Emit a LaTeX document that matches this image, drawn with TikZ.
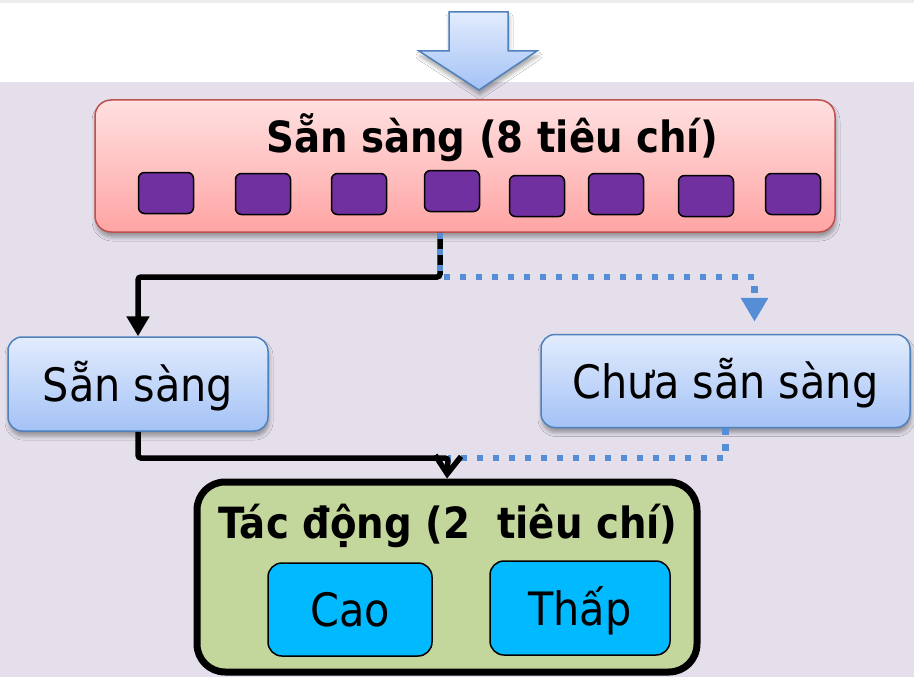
\documentclass[tikz,border=0pt]{standalone}
\usepackage{fontspec}
\setmainfont{DejaVu Sans}[FakeStretch=0.9]
\usetikzlibrary{arrows.meta,shadows.blur}

\definecolor{bglav}{RGB}{228,223,235}
\definecolor{pinktop}{RGB}{255,224,224}
\definecolor{pinkbot}{RGB}{255,164,164}
\definecolor{pinkline}{RGB}{192,80,77}
\definecolor{bluetop}{RGB}{226,236,253}
\definecolor{bluebot}{RGB}{164,194,246}
\definecolor{blueline}{RGB}{79,129,189}
\definecolor{critfill}{RGB}{112,48,160}
\definecolor{dotblue}{RGB}{85,142,213}
\definecolor{impactfill}{RGB}{195,214,155}
\definecolor{levelfill}{RGB}{0,185,255}

\newcommand{\statefont}{\fontsize{46}{52}\selectfont}
\newcommand{\headfont}{\fontsize{43}{48}\selectfont\bfseries}

\begin{document}
\begin{tikzpicture}[x=1pt,y=-1pt,
  softshadow/.style={blur shadow={shadow xshift=1pt,shadow yshift=-5pt,shadow blur radius=4pt,shadow opacity=35}},
  readybar/.style={draw=pinkline,line width=1.5pt,rounded corners=16pt,top color=pinktop,bottom color=pinkbot,softshadow,minimum width=740,minimum height=132,inner sep=0pt},
  critbox/.style={draw=black,line width=1.5pt,fill=critfill,rounded corners=6pt,minimum width=55,minimum height=41,inner sep=0pt},
  statebox/.style={draw=blueline,line width=1.5pt,rounded corners=14pt,top color=bluetop,bottom color=bluebot,softshadow,inner sep=0pt,text height=40pt,text depth=6pt,font=\statefont},
  impactbox/.style={draw=black,line width=7pt,rounded corners=28pt,fill=impactfill,minimum width=500,minimum height=190,inner sep=0pt},
  levelbox/.style={draw=black,line width=1.5pt,rounded corners=14pt,fill=levelfill,inner sep=0pt,text height=40pt,text depth=6pt,font=\statefont},
  headtext/.style={font=\headfont,anchor=base,inner sep=0pt},
  solidlink/.style={draw=black,line width=5.5pt,rounded corners=3pt},
  dotlink/.style={draw=dotblue,line width=6.5pt,dash pattern=on 6.5pt off 9.5pt}]
\useasboundingbox (0,0) rectangle (914,677);

% BACKGROUND
\fill[white] (0,0) rectangle (914,82);
\fill[black!7] (0,0) rectangle (914,3);
\fill[bglav] (0,82) rectangle (914,677);

% BIG ARROW
\draw[draw=blueline,line width=1.5pt,top color=bluetop,bottom color=bluebot,softshadow]
  (449,12) -- (508,12) -- (508,51) -- (537,51) -- (479,90) -- (419,51) -- (449,51) -- cycle;

% TOP BAR
\node[readybar] (top) at (465,166) {};
\node[headtext] (toptitle) at (492,152) {Sẵn sàng (8 tiêu chí)};
\foreach \cx/\cy [count=\i] in {166/193,263/194,359/194,452/191,537/196,616/194,706/196,793/194}
  \node[critbox] (crit\i) at (\cx,\cy) {};

% STATES
\node[statebox,minimum width=260,minimum height=94] (ready) at (138,384) {Sẵn sàng};
\node[statebox,minimum width=369,minimum height=93] (notready) at (725.5,381) {Chưa sẵn sàng};

\coordinate (split) at (440,277);
\coordinate (merge) at (448,458);

\draw[solidlink,-{Triangle[width=22pt,length=20pt]}] (top.south -| split) -- (split) -| (ready.north);
\draw[dotlink,-{Triangle[width=26pt,length=24pt]},shorten >=12pt] (top.south -| split) -- (split) -| ([xshift=29pt]notready.north);

% IMPACT
\node[impactbox] (impact) at (447,577) {};
\node[headtext] (impacttitle) at (448,538) {Tác động (2\ \ tiêu chí)};
\node[levelbox,minimum width=164,minimum height=93] (high) at (350,609.5) {Cao};
\node[levelbox,minimum width=180,minimum height=94] (low) at (580,608) {Thấp};

\draw[dotlink] (notready.south) |- (merge);
\draw[solidlink,-{Straight Barb[width=26pt,length=18pt]}] (ready.south) |- (merge) -- (impact.north);
\end{tikzpicture}
\end{document}
